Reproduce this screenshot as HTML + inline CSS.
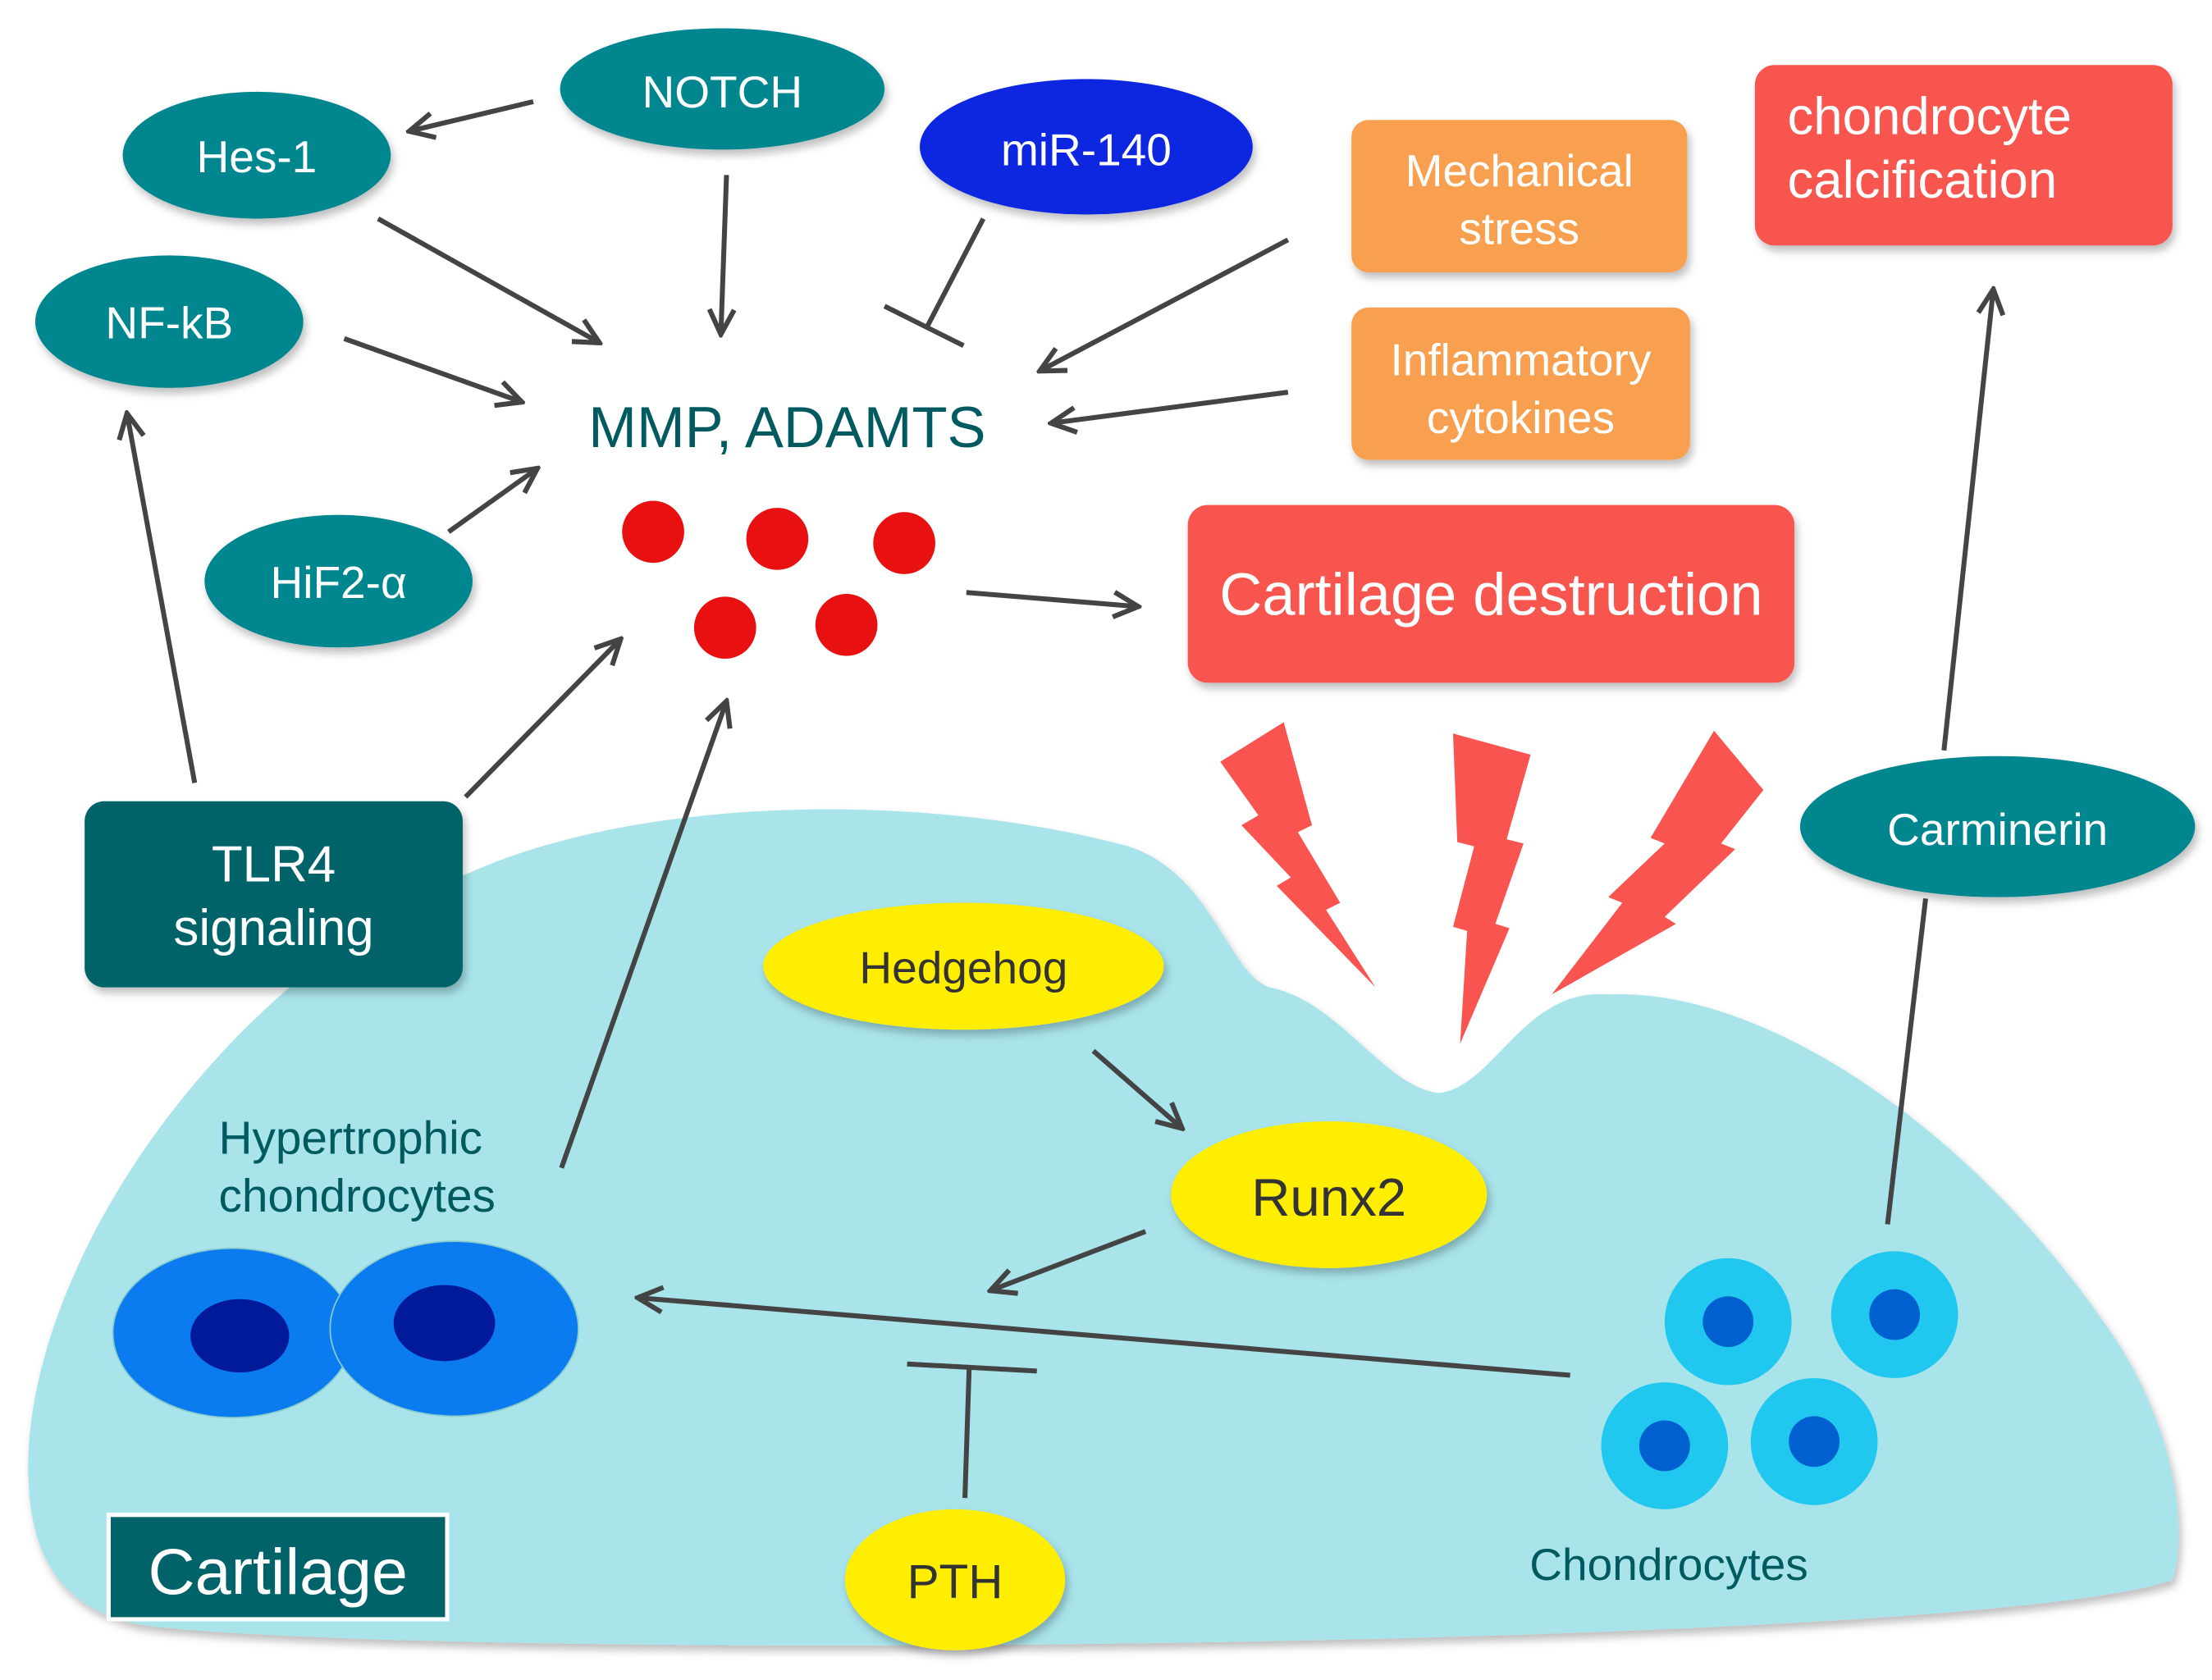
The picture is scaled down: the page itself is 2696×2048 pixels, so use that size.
<!DOCTYPE html>
<html><head><meta charset="utf-8"><style>
html,body{margin:0;padding:0;background:#fff}
svg{display:block}
text{font-family:"Liberation Sans",sans-serif}
</style></head><body>
<svg width="2696" height="2048" viewBox="0 0 1568 1191" xmlns="http://www.w3.org/2000/svg">
<defs>
<marker id="a" viewBox="0 0 20 20" refX="18" refY="10" markerWidth="22" markerHeight="22" orient="auto" markerUnits="userSpaceOnUse">
<path d="M2,2 L18,10 L2,18" fill="none" stroke="#444" stroke-width="3.2"/>
</marker>
<filter id="sh" x="-10%" y="-10%" width="120%" height="130%"><feDropShadow dx="2" dy="4" stdDeviation="3" flood-color="#000" flood-opacity="0.25"/></filter>
</defs>
<rect width="1568" height="1191" fill="#fff"/>
<path filter="url(#sh)" fill="#a8e4ea" d="M20,1040 C20,900 150,700 330,620 C450,565 650,560 800,600 C860,620 870,690 900,700 C950,710 980,770 1020,775 C1060,770 1080,700 1140,705 C1250,700 1400,800 1500,950 C1545,1020 1550,1090 1540,1120 C1400,1170 300,1178 100,1152 C40,1140 20,1100 20,1040 Z"/>
<g fill="#f95450">
<polygon points="865,540 910,512 930,585 920,590 950,640 940,645 975,700 905,628 915,622 880,585 892,578"/>
<polygon points="1030,520 1085,535 1068,595 1080,598 1060,655 1070,658 1035,740 1040,660 1030,657 1045,600 1033,597"/>
<polygon points="1215,518 1250,560 1220,598 1230,602 1180,650 1188,655 1100,705 1150,640 1140,636 1180,598 1170,594"/>
</g>
<g stroke="#444" stroke-width="3.5" fill="none" marker-end="url(#a)">
<line x1="378" y1="72" x2="290" y2="93"/>
<line x1="268" y1="155" x2="425" y2="243"/>
<line x1="515" y1="124" x2="511" y2="237"/>
<line x1="244" y1="240" x2="370" y2="285"/>
<line x1="913" y1="170" x2="737" y2="263"/>
<line x1="913" y1="278" x2="745" y2="300"/>
<line x1="318" y1="377" x2="381" y2="332"/>
<line x1="138" y1="555" x2="90" y2="293"/>
<line x1="330" y1="565" x2="440" y2="453"/>
<line x1="398" y1="828" x2="515" y2="497"/>
<line x1="685" y1="420" x2="807" y2="430"/>
<line x1="775" y1="745" x2="838" y2="800"/>
<line x1="812" y1="873" x2="702" y2="915"/>
<line x1="1113" y1="975" x2="452" y2="920"/>
<line x1="1378" y1="532" x2="1413" y2="205"/>
</g>
<g stroke="#444" stroke-width="3.5">
<line x1="697" y1="155" x2="657" y2="232"/><line x1="627" y1="217" x2="683" y2="245"/>
<line x1="684" y1="1062" x2="687" y2="970"/><line x1="643" y1="967" x2="735" y2="972"/>
<line x1="1338" y1="868" x2="1365" y2="637"/>
</g>
<g fill="#00868f" filter="url(#sh)">
<ellipse cx="512" cy="63" rx="115" ry="43"/>
<ellipse cx="182" cy="110" rx="95" ry="45"/>
<ellipse cx="120" cy="228" rx="95" ry="47"/>
<ellipse cx="240" cy="412" rx="95" ry="47"/>
<ellipse cx="1416" cy="586" rx="140" ry="50"/>
</g>
<ellipse cx="770" cy="104" rx="118" ry="48" fill="#0a28e0" filter="url(#sh)"/>
<g fill="#fff" font-size="32" text-anchor="middle">
<text x="512" y="76">NOTCH</text>
<text x="182" y="122">Hes-1</text>
<text x="120" y="240">NF-kB</text>
<text x="240" y="424">HiF2-α</text>
<text x="1416" y="599">Carminerin</text>
<text x="770" y="117">miR-140</text>
</g>
<g filter="url(#sh)">
<rect x="958" y="85" width="238" height="108" rx="12" fill="#f8a050"/>
<rect x="958" y="218" width="240" height="108" rx="12" fill="#f8a050"/>
<rect x="1244" y="46" width="296" height="128" rx="14" fill="#f95450"/>
<rect x="842" y="358" width="430" height="126" rx="14" fill="#f95450"/>
<rect x="60" y="568" width="268" height="132" rx="14" fill="#00636a"/>
</g>
<g fill="#fff" text-anchor="middle">
<text x="1077" y="132" font-size="32">Mechanical</text>
<text x="1077" y="173" font-size="32">stress</text>
<text x="1078" y="266" font-size="32">Inflammatory</text>
<text x="1078" y="307" font-size="32">cytokines</text>
<text x="1267" y="95" font-size="37" text-anchor="start">chondrocyte</text>
<text x="1267" y="140" font-size="37" text-anchor="start">calcification</text>
<text x="1057" y="436" font-size="42">Cartilage destruction</text>
<text x="194" y="625" font-size="36">TLR4</text>
<text x="194" y="670" font-size="36">signaling</text>
</g>
<text x="558" y="317" font-size="41" fill="#005a60" text-anchor="middle">MMP, ADAMTS</text>
<g fill="#e81010">
<circle cx="463" cy="377" r="22"/><circle cx="551" cy="382" r="22"/><circle cx="641" cy="385" r="22"/>
<circle cx="514" cy="445" r="22"/><circle cx="600" cy="443" r="22"/>
</g>
<g fill="#ffee00" filter="url(#sh)">
<ellipse cx="683" cy="685" rx="142" ry="45"/>
<ellipse cx="942" cy="847" rx="112" ry="52"/>
<ellipse cx="677" cy="1120" rx="78" ry="50"/>
</g>
<g fill="#333" text-anchor="middle">
<text x="683" y="697" font-size="32">Hedgehog</text>
<text x="942" y="862" font-size="38">Runx2</text>
<text x="677" y="1133" font-size="34">PTH</text>
</g>
<ellipse cx="165" cy="945" rx="85" ry="60" fill="#0a7cf0" stroke="#8cc" stroke-width="1"/>
<ellipse cx="170" cy="947" rx="35" ry="26" fill="#001a99"/>
<ellipse cx="322" cy="942" rx="88" ry="62" fill="#0a7cf0" stroke="#8cc" stroke-width="1"/>
<ellipse cx="315" cy="938" rx="36" ry="27" fill="#001a99"/>
<g fill="#20c8f0"><circle cx="1225" cy="937" r="45"/><circle cx="1343" cy="932" r="45"/><circle cx="1180" cy="1025" r="45"/><circle cx="1286" cy="1022" r="45"/></g>
<g fill="#0060d0"><circle cx="1225" cy="937" r="18"/><circle cx="1343" cy="932" r="18"/><circle cx="1180" cy="1025" r="18"/><circle cx="1286" cy="1022" r="18"/></g>
<g fill="#005a60">
<text x="155" y="818" font-size="33">Hypertrophic</text>
<text x="155" y="859" font-size="33">chondrocytes</text>
<text x="1183" y="1120" font-size="32" text-anchor="middle">Chondrocytes</text>
</g>
<rect x="77" y="1074" width="240" height="74" fill="#00636a" stroke="#fff" stroke-width="3"/>
<text x="197" y="1130" font-size="46" fill="#fff" text-anchor="middle">Cartilage</text>
</svg>
</body></html>
